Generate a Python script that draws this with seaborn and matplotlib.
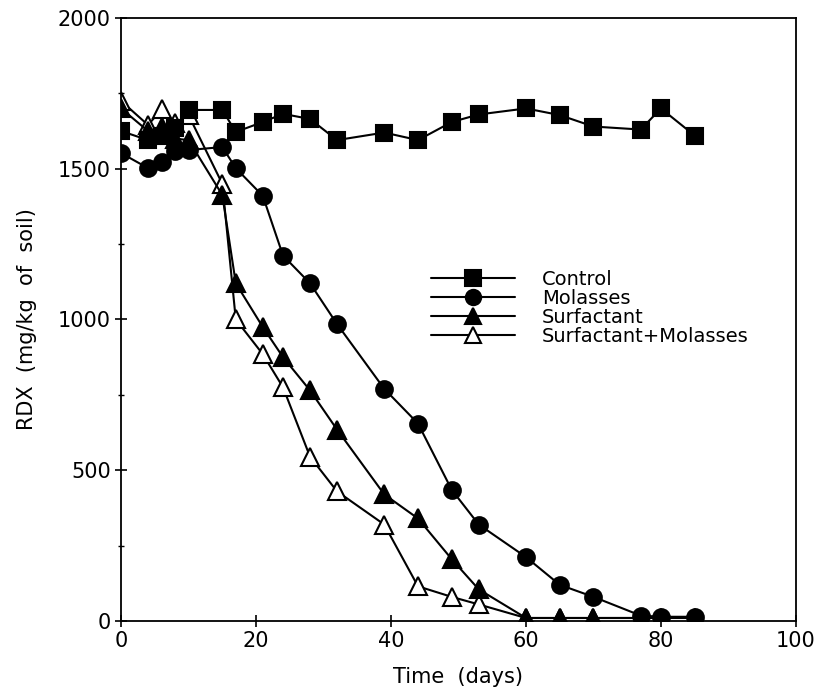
import matplotlib
matplotlib.use("Agg")
import matplotlib.pyplot as plt
import seaborn as sns
import pandas as pd
from matplotlib.ticker import MultipleLocator

days_control = [0, 4, 6, 8, 10, 15, 17, 21, 24, 28, 32, 39, 44, 49, 53, 60, 65, 70, 77, 80, 85]
control = [1625, 1595, 1610, 1635, 1695, 1695, 1622, 1655, 1682, 1665, 1595, 1620, 1595, 1655, 1680, 1700, 1678, 1640, 1630, 1700, 1610]

days_mol = [0, 4, 6, 8, 10, 15, 17, 21, 24, 28, 32, 39, 44, 49, 53, 60, 65, 70, 77, 80, 85]
molasses = [1552, 1502, 1522, 1560, 1562, 1572, 1502, 1410, 1212, 1120, 985, 770, 655, 435, 320, 212, 120, 80, 18, 14, 14]

days_surf = [0, 4, 6, 8, 10, 15, 17, 21, 24, 28, 32, 39, 44, 49, 53, 60, 65, 70, 77, 80, 85]
surfactant = [1700, 1625, 1640, 1600, 1595, 1413, 1120, 975, 875, 765, 635, 420, 340, 205, 105, 10, 10, 10, 10, 10, 10]

days_sm = [0, 4, 6, 8, 10, 15, 17, 21, 24, 28, 32, 39, 44, 49, 53, 60, 65, 70, 77, 80, 85]
surf_mol = [1725, 1645, 1697, 1652, 1678, 1450, 1000, 885, 775, 545, 430, 320, 115, 80, 55, 10, 10, 10, 10, 10, 10]

series_names = ["Control", "Molasses", "Surfactant", "Surfactant+Molasses"]

frames = []
for name, d, v in zip(series_names,
                      [days_control, days_mol, days_surf, days_sm],
                      [control, molasses, surfactant, surf_mol]):
    frames.append(pd.DataFrame({"Time": d, "RDX": v, "Treatment": name}))
df = pd.concat(frames, ignore_index=True)

sns.set_style("ticks")
plt.rcParams['font.family'] = ['DejaVu Sans']
plt.rcParams['text.color'] = 'black'
plt.rcParams['axes.labelcolor'] = 'black'
plt.rcParams['xtick.color'] = 'black'
plt.rcParams['ytick.color'] = 'black'

fig = plt.figure(figsize=(8.18, 6.92), dpi=100)
ax = fig.add_axes([0.148, 0.1026, 0.825, 0.8714])

styles = {
    "Control": dict(marker="s", mfc="black", ms=11.5),
    "Molasses": dict(marker="o", mfc="black", ms=12),
    "Surfactant": dict(marker="^", mfc="black", ms=12.5),
    "Surfactant+Molasses": dict(marker="^", mfc="white", ms=12.5),
}

for name in series_names[::-1]:
    sub = df[df["Treatment"] == name]
    st = styles[name]
    sns.lineplot(data=sub, x="Time", y="RDX", ax=ax, color="black", lw=1.5,
                 marker=st["marker"], markersize=st["ms"],
                 markerfacecolor=st["mfc"], markeredgecolor="black",
                 markeredgewidth=1.5, label=name, legend=False)

handles, labels = ax.get_legend_handles_labels()
order = [labels.index(n) for n in series_names]
leg = ax.legend([handles[i] for i in order], [labels[i] for i in order],
                loc="upper left", bbox_to_anchor=(0.445, 0.598), frameon=False,
                fontsize=14, handlelength=4.3, handletextpad=1.4,
                labelspacing=0.0, borderpad=0)
for h in leg.legend_handles:
    h.set_markersize(11)

ax.set_xlim(0, 100)
ax.set_ylim(0, 2000)
ax.xaxis.set_major_locator(MultipleLocator(20))
ax.yaxis.set_major_locator(MultipleLocator(500))
ax.yaxis.set_minor_locator(MultipleLocator(250))
ax.tick_params(axis="both", which="major", direction="inout", length=8, width=1.2,
               labelsize=15, colors="black")
ax.tick_params(axis="y", which="minor", direction="inout", length=5, width=1)
for sp in ax.spines.values():
    sp.set_linewidth(1.3)
    sp.set_color("black")

ax.set_xlabel("Time  (days)", fontsize=15, labelpad=11)
ax.set_ylabel("RDX  (mg/kg  of  soil)", fontsize=15, labelpad=15)

fig.savefig("out.png", dpi=100)
